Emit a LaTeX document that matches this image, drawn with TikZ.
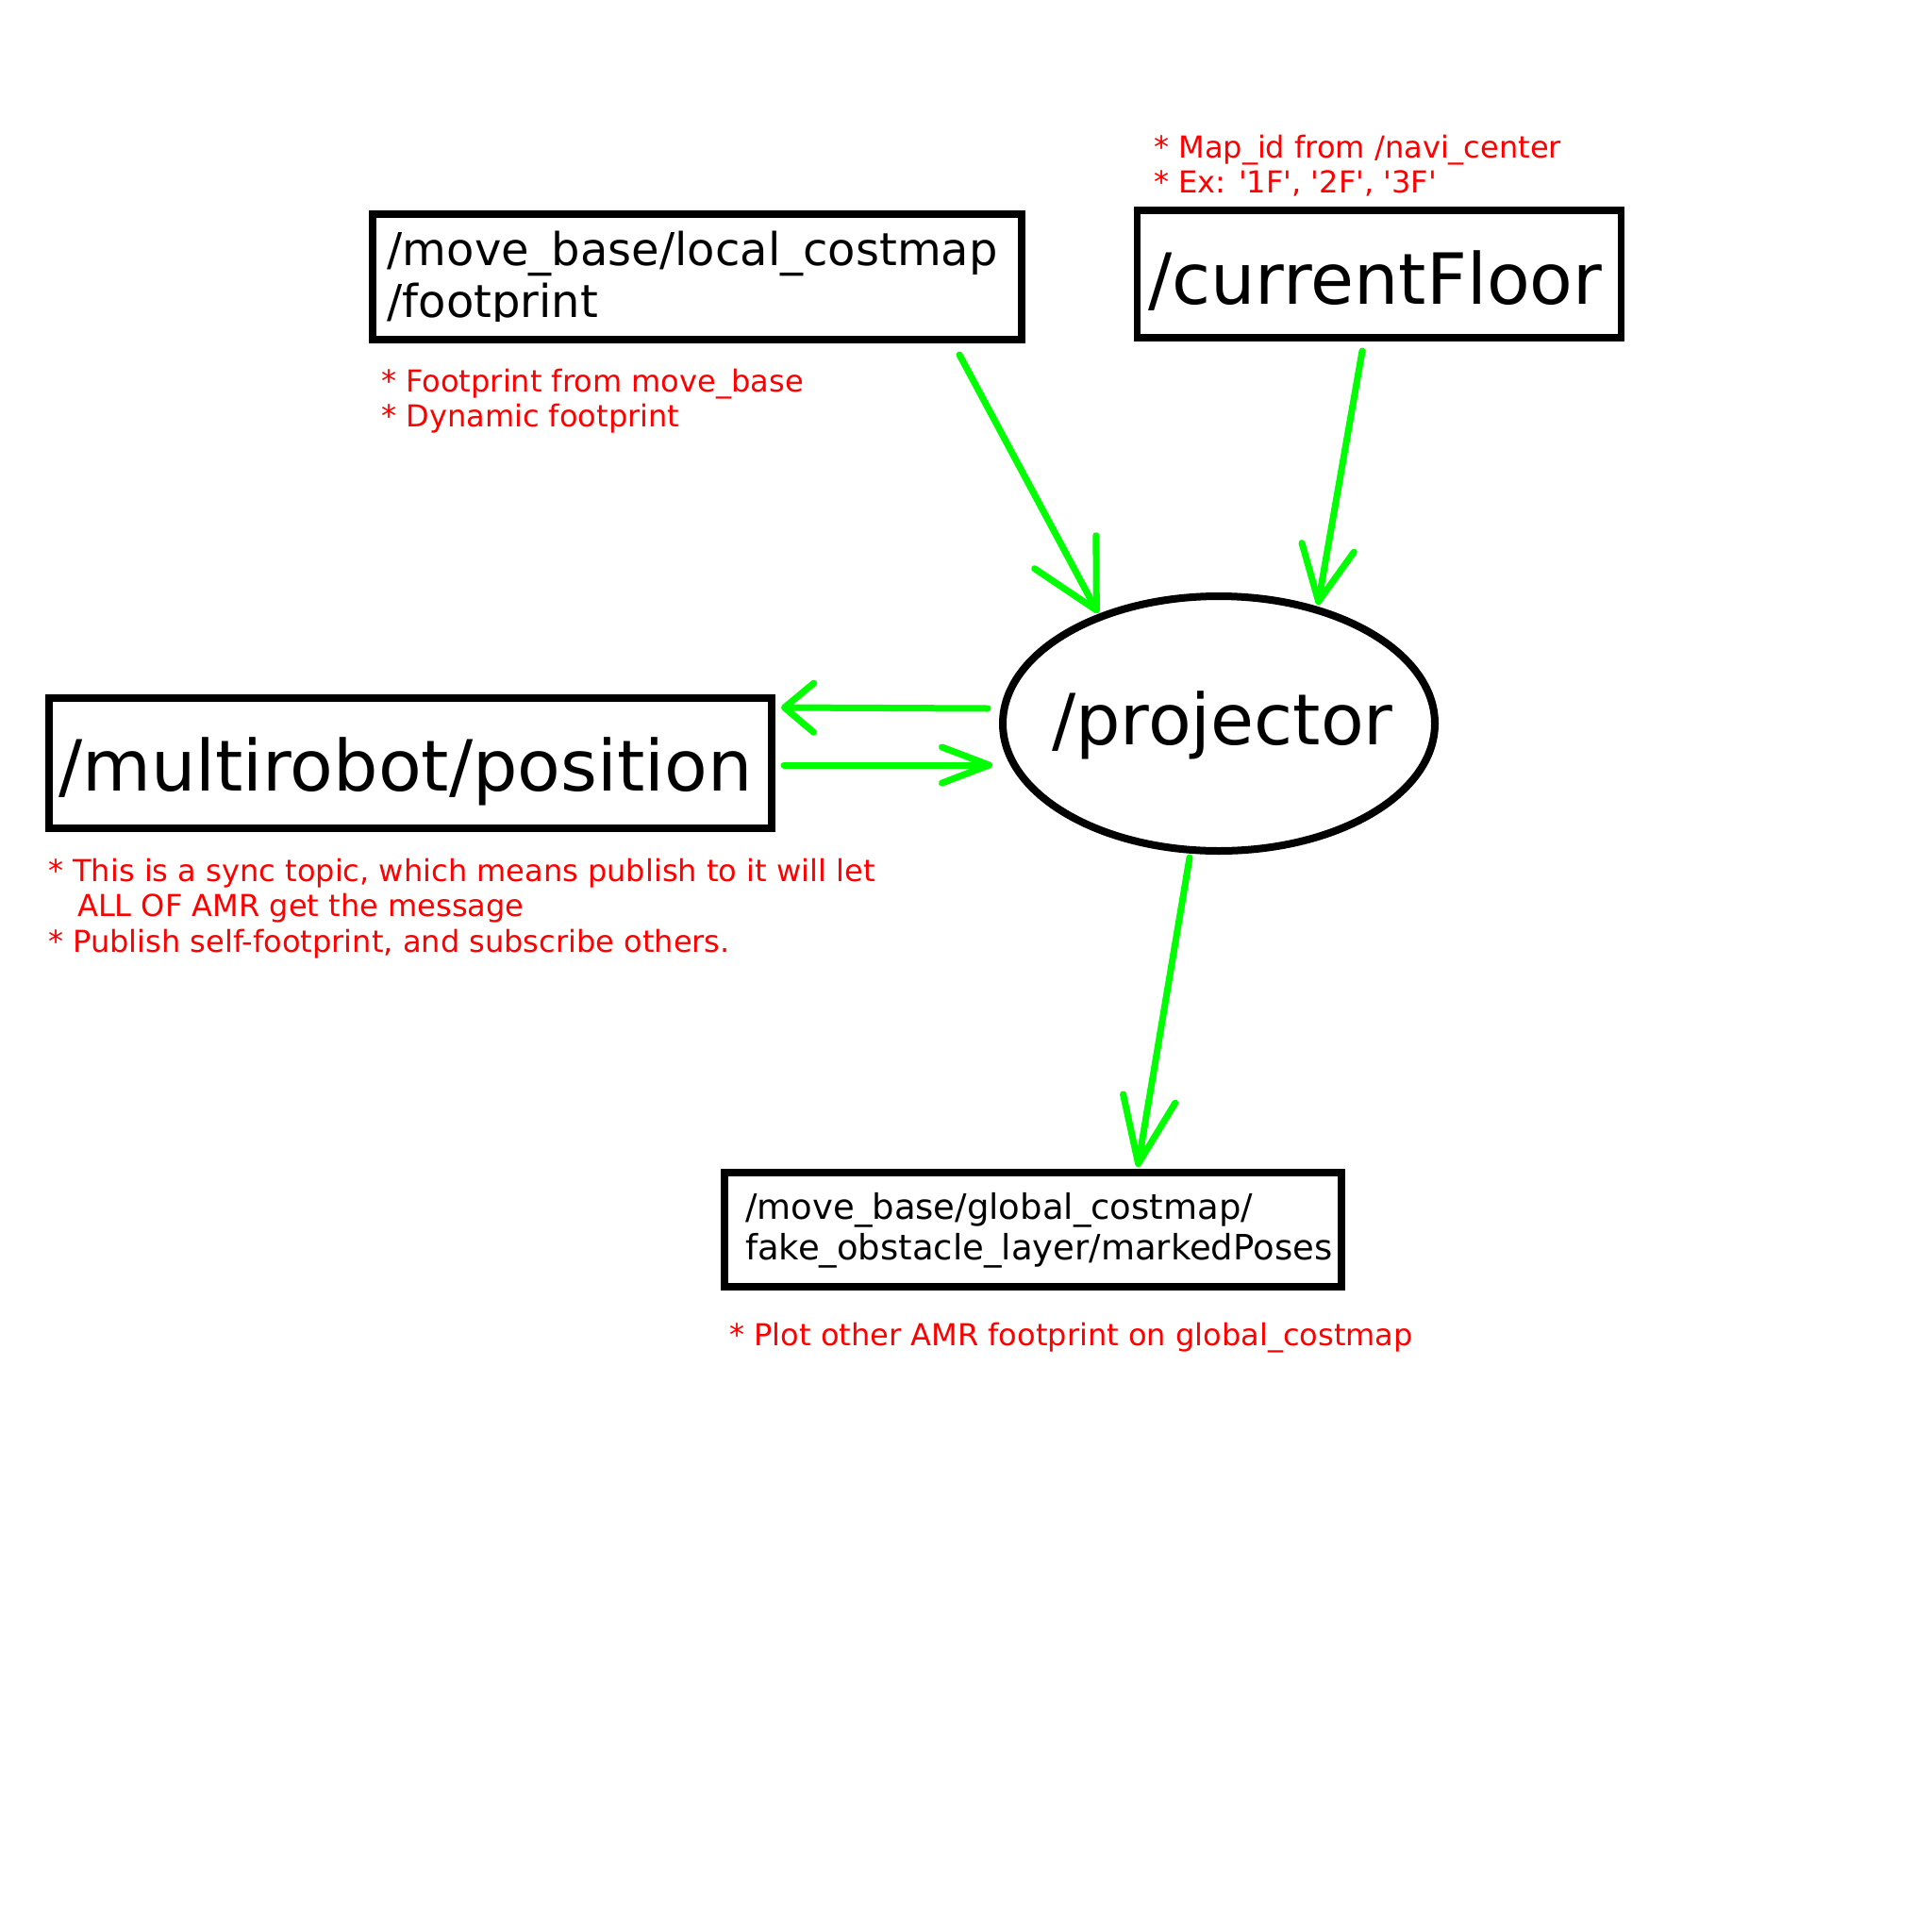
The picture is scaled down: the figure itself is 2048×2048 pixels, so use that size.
\documentclass[tikz,border=0pt]{standalone}
\usepackage{fontspec}
\setmainfont{DejaVu Sans}[Ligatures=TeXOff]
\usetikzlibrary{arrows.meta,shapes.geometric}
\definecolor{gr}{RGB}{0,255,0}
\definecolor{rd}{RGB}{255,0,0}
\begin{document}
\begin{tikzpicture}[x=1pt,y=-1pt,
  topic/.style={draw=black, line width=7.3pt, rectangle, inner sep=0pt},
  txt/.style={anchor=base west, inner sep=0pt},
  bigt/.style={txt, font=\fontsize{74.8}{89}\selectfont},
  midt/.style={txt, font=\fontsize{48}{57}\selectfont},
  smallt/.style={txt, font=\fontsize{37}{44}\selectfont},
  note/.style={txt, text=rd, font=\fontsize{32.05}{37}\selectfont},
  flow/.style={draw=gr, line width=7pt, line cap=round, line join=round},
]
\useasboundingbox[fill=white] (0,0) rectangle (2048,2048);

% boxes and node
\node[topic, minimum width=688pt, minimum height=133pt] (lcm) at (739,293.5) {};
\node[topic, minimum width=513pt, minimum height=135pt] (cf) at (1462,290.5) {};
\node[topic, minimum width=766pt, minimum height=138pt] (mrp) at (435,809) {};
\node[topic, minimum width=654pt, minimum height=121pt] (gcm) at (1095,1303.5) {};
\node[draw, ellipse, line width=8pt, minimum width=458pt, minimum height=270pt, inner sep=0pt] (proj) at (1292,767) {};

% texts
\begin{scope}
\clip (395,227) rectangle (1083,340);
\node[midt] (lcmA) at (410.5,281.7) {/move\_base/local\_costmap};
\node[midt] (lcmB) at (410.5,336.7) {/footprint};
\end{scope}
\node[bigt] (cfT) at (1217,322) {/currentFloor};
\node[bigt] (mrpT) at (62,838) {/multirobot/position};
\node[bigt] (projT) at (1115,789) {/projector};
\node[smallt] (gcmA) at (790,1292) {/move\_base/global\_costmap/};
\node[smallt] (gcmB) at (790,1335) {fake\_obstacle\_layer/markedPoses};

% notes
\node[note] (n1a) at (1223,167) {* Map\_id from /navi\_center};
\node[note] (n1b) at (1223,204) {* Ex: '1F', '2F', '3F'};
\node[note] (n2a) at (404,415) {* Footprint from move\_base};
\node[note] (n2b) at (404,452) {* Dynamic footprint};
\node[note] (n3a) at (51,934) {* This is a sync topic, which means publish to it will let};
\node[note] (n3b) at (82,971) {ALL OF AMR get the message};
\node[note] (n3c) at (51,1009) {* Publish self-footprint, and subscribe others.};
\node[note] (n4) at (773,1426) {* Plot other AMR footprint on global\_costmap};

% connectors
\coordinate (a1s) at (1017,376); \coordinate (a1e) at (1164,650);
\coordinate (a2s) at (1444,372); \coordinate (a2e) at (1397,641);
\coordinate (a3s) at (1047,751); \coordinate (a3e) at (828,750);
\coordinate (a4s) at (831,811);  \coordinate (a4e) at (1052,811);
\coordinate (a5s) at (1261,909); \coordinate (a5e) at (1206,1237);
\draw[flow, -{Straight Barb[length=70pt,width=74pt,round]}] (a1s) -- (a1e);
\draw[flow, -{Straight Barb[length=58pt,width=56pt,round]}] (a2s) -- (a2e);
\draw[flow, -{Straight Barb[length=31pt,width=52pt,round]}] (a3s) -- (a3e);
\draw[flow, -{Straight Barb[length=50pt,width=38pt,round]}] (a4s) -- (a4e);
\draw[flow, -{Straight Barb[length=70pt,width=56pt,round]}] (a5s) -- (a5e);
\end{tikzpicture}
\end{document}
